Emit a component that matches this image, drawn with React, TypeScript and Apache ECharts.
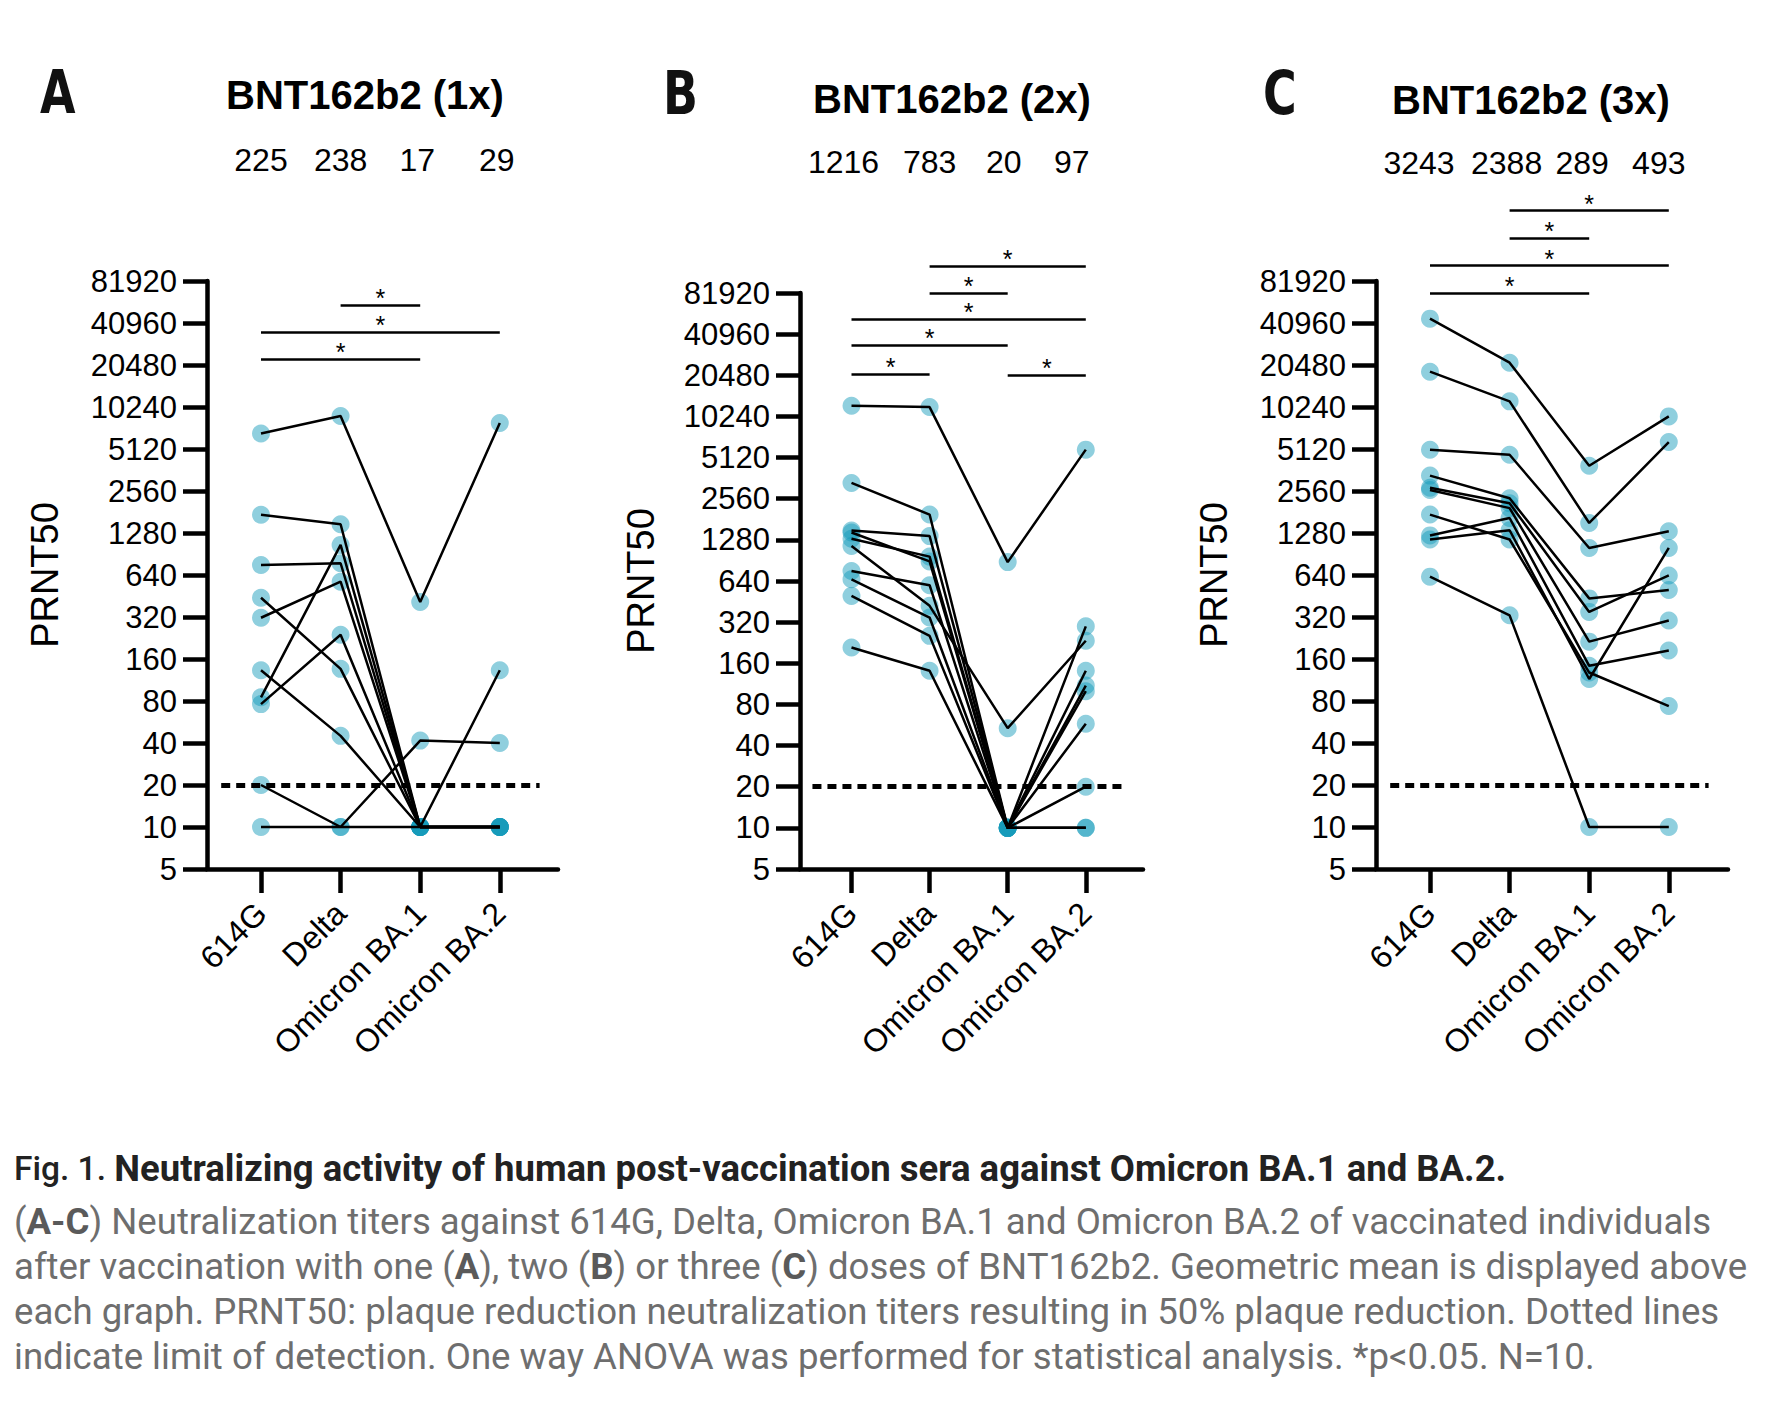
import React, { useEffect, useRef } from 'react';
import * as echarts from 'echarts';

// ---------- data ----------
const categories = ['614G', 'Delta', 'Omicron BA.1', 'Omicron BA.2'];
const yTickLabels = ['5', '10', '20', '40', '80', '160', '320', '640', '1280', '2560', '5120', '10240', '20480', '40960', '81920'];
const yMin = 5;
const yTop = 327680; // hidden headroom for significance bars
const lodValue = 20;

const panelLetters = ['A', 'B', 'C'];
const panelTitles = ['BNT162b2 (1x)', 'BNT162b2 (2x)', 'BNT162b2 (3x)'];
const geoMeansA = ['225', '238', '17', '29'];
const geoMeansB = ['1216', '783', '20', '97'];
const geoMeansC = ['3243', '2388', '289', '493'];

// each subject: [614G, Delta, Omicron BA.1, Omicron BA.2]
const subjectsA = [
  [6620, 8820, 410, 7870],
  [1729, 1480, 10, 133],
  [755, 777, 10, 10],
  [316, 573, 10, 10],
  [440, 136, 10, 10],
  [85, 1052, 10, 10],
  [76, 239, 10, 10],
  [133, 45, 10, 10],
  [20, 10, 41.6, 40],
  [10, 10, 10, 10],
];
const subjectsB = [
  [12260, 11990, 880, 5850],
  [3340, 1960, 10, 298],
  [1500, 1364, 10, 141],
  [1305, 965, 10, 110],
  [1153, 421, 53.6, 234],
  [758, 596, 10, 100],
  [659, 346, 10, 57.7],
  [498, 254, 10, 20],
  [209, 141, 10, 10],
  [1450, 890, 10, 10],
];
const subjectsC = [
  [44000, 21280, 3886, 8770],
  [18340, 11240, 1510, 5740],
  [5060, 4660, 1000, 1316],
  [3300, 2270, 435, 500],
  [2700, 2090, 348, 635],
  [2600, 1930, 213, 302],
  [1735, 1150, 128, 73.6],
  [1230, 1640, 143, 184],
  [1150, 1340, 115, 1000],
  [623, 329, 10, 10],
];

// significance brackets: [from category, to category, height]
const bracketsA = [[1, 2, 54700], [0, 3, 35200], [0, 2, 22500]];
const bracketsB = [[1, 3, 128700], [1, 2, 81920], [0, 3, 52700], [0, 2, 34200], [0, 1, 20900], [2, 3, 20500]];
const bracketsC = [[1, 3, 261800], [1, 2, 165300], [0, 3, 105400], [0, 2, 67300]];

const captionTitle = 'Neutralizing activity of human post-vaccination sera against Omicron BA.1 and BA.2.';
const captionLines = [
  '({b|A-C}) Neutralization titers against 614G, Delta, Omicron BA.1 and Omicron BA.2 of vaccinated individuals',
  'after vaccination with one ({b|A}), two ({b|B}) or three ({b|C}) doses of BNT162b2. Geometric mean is displayed above',
  'each graph. PRNT50: plaque reduction neutralization titers resulting in 50% plaque reduction. Dotted lines',
  'indicate limit of detection. One way ANOVA was performed for statistical analysis. *p<0.05. N=10.',
];

const panels = [
  { letter: panelLetters[0], title: panelTitles[0], geo: geoMeansA, subjects: subjectsA, brackets: bracketsA },
  { letter: panelLetters[1], title: panelTitles[1], geo: geoMeansB, subjects: subjectsB, brackets: bracketsB },
  { letter: panelLetters[2], title: panelTitles[2], geo: geoMeansC, subjects: subjectsC, brackets: bracketsC },
];

// ---------- layout (pixels) ----------
const layouts = [
  { axisX: 207, catX0: 261, sp: 79.6, top: 281, bottom: 869, right: 558, letterX: 40, letterY: 92, titleX: 365, titleY: 95, geoY: 160, geoDx: [0, 0, -3, -3], nameGap: 143 },
  { axisX: 800, catX0: 851.5, sp: 78.1, top: 293, bottom: 869, right: 1143, letterX: 663, letterY: 93, titleX: 952, titleY: 99, geoY: 162, geoDx: [-8, 0, -4, -14], nameGap: 140 },
  { axisX: 1376, catX0: 1430, sp: 79.6, top: 281, bottom: 869, right: 1728, letterX: 1263, letterY: 93, titleX: 1531, titleY: 100, geoY: 163, geoDx: [-11, -3, -7, -10], nameGap: 143 },
];

const FONT = '"Liberation Sans", Arial, sans-serif';
const DOT = 'rgba(20,155,185,0.6)';

function buildOption() {
  const grid: any[] = [];
  const xAxis: any[] = [];
  const yAxis: any[] = [];
  const series: any[] = [];
  const graphic: any[] = [];

  panels.forEach((p, k) => {
    const L = layouts[k];
    const d = (L.bottom - L.top) / 14;
    // frame grid (visible axes)
    grid.push({ left: L.axisX, top: L.top, width: L.right - L.axisX, height: L.bottom - L.top, containLabel: false });
    const gQ = grid.length - 1;
    xAxis.push({
      gridIndex: gQ, type: 'value', min: 0, max: 1,
      axisLine: { show: true, lineStyle: { color: '#000', width: 4.5 } },
      axisTick: { show: false }, axisLabel: { show: false }, splitLine: { show: false },
    });
    yAxis.push({
      gridIndex: gQ, type: 'value', min: 0, max: 14, interval: 1,
      name: 'PRNT50', nameLocation: 'middle', nameGap: L.nameGap, nameRotate: 90,
      nameTextStyle: { fontSize: 38, color: '#000', fontFamily: FONT },
      axisLine: { show: true, lineStyle: { color: '#000', width: 4.5 } },
      axisTick: { show: true, length: 24, lineStyle: { color: '#000', width: 4.5 } },
      axisLabel: { margin: 30, fontSize: 31, color: '#000', fontFamily: FONT, formatter: (v: number) => yTickLabels[v] ?? '' },
      splitLine: { show: false },
    });
    // plot grid (data)
    const h = d * Math.log2(yTop / yMin);
    grid.push({ left: L.catX0 - L.sp / 2, top: L.bottom - h, width: 4 * L.sp, height: h, containLabel: false });
    const gP = grid.length - 1;
    xAxis.push({
      gridIndex: gP, type: 'category', data: categories, boundaryGap: true,
      axisLine: { show: false },
      axisTick: { show: true, alignWithLabel: true, length: 24, lineStyle: { color: '#000', width: 4.5 } },
      axisLabel: { interval: 0, rotate: 45, margin: 39, fontSize: 32, color: '#000', fontFamily: FONT },
      splitLine: { show: false },
    });
    yAxis.push({ gridIndex: gP, type: 'log', logBase: 2, min: yMin, max: yTop, show: false, splitLine: { show: false } });

    const dots: any[] = [];
    p.subjects.forEach((s) => s.forEach((v, i) => dots.push([i, v])));

    const markData: any[] = [
      { yAxis: lodValue, lineStyle: { color: '#000', width: 5, type: [9, 6] }, label: { show: false } },
    ];
    p.brackets.forEach(([a, b, lvl]) => {
      markData.push([
        {
          coord: [categories[a], lvl],
          lineStyle: { color: '#000', width: 2.5, type: 'solid' },
          label: { show: true, formatter: '*', position: 'insideMiddleTop', distance: 0, offset: [0, 1], fontSize: 25, lineHeight: 16, color: '#000', fontFamily: FONT },
        },
        { coord: [categories[b], lvl] },
      ]);
    });

    series.push({
      type: 'scatter', xAxisIndex: gP, yAxisIndex: gP, data: dots, symbolSize: 18,
      itemStyle: { color: DOT }, z: 2, silent: true,
      markLine: { silent: true, symbol: ['none', 'none'], animation: false, data: markData },
    });
    p.subjects.forEach((s) => {
      series.push({
        type: 'line', xAxisIndex: gP, yAxisIndex: gP, data: s, symbol: 'none', showSymbol: false,
        lineStyle: { color: '#000', width: 2.5 }, z: 3, silent: true,
      });
    });

    graphic.push({
      type: 'text', x: L.letterX, y: L.letterY, scaleX: 0.85,
      style: { text: p.letter, fontSize: 60, fontWeight: 'bold', fontFamily: '"Liberation Sans Narrow", "DejaVu Sans Condensed", sans-serif', fill: '#111', align: 'left', verticalAlign: 'middle' },
    });
    graphic.push({
      type: 'text', x: L.titleX, y: L.titleY,
      style: { text: p.title, fontSize: 40, fontWeight: 'bold', fontFamily: FONT, fill: '#000', align: 'center', verticalAlign: 'middle' },
    });
    p.geo.forEach((g, i) => {
      graphic.push({
        type: 'text', x: L.catX0 + i * L.sp + L.geoDx[i], y: L.geoY,
        style: { text: g, fontSize: 32, fontFamily: FONT, fill: '#000', align: 'center', verticalAlign: 'middle' },
      });
    });
  });

  // caption
  const CAP = 'Roboto, "Noto Sans", sans-serif';
  graphic.push({
    type: 'text', x: 14, y: 1168,
    style: {
      text: '{f|Fig. 1. }{t|' + captionTitle + '}', verticalAlign: 'middle', align: 'left',
      rich: {
        f: { fontSize: 33.5, fontWeight: 500, fill: '#222', fontFamily: CAP },
        t: { fontSize: 36.5, fontWeight: 'bold', fill: '#222', fontFamily: CAP },
      },
    },
  });
  captionLines.forEach((line, i) => {
    graphic.push({
      type: 'text', x: 14, y: 1221 + i * 45.2,
      style: {
        text: line, fontSize: 36.6, fontFamily: CAP, fill: '#6e6e6e', verticalAlign: 'middle', align: 'left',
        rich: { b: { fontSize: 36.6, fontWeight: 'bold', fill: '#5a5a5a', fontFamily: CAP } },
      },
    });
  });

  return {
    animation: false,
    backgroundColor: '#fff',
    textStyle: { fontFamily: FONT },
    grid, xAxis, yAxis, series, graphic,
  };
}

export default function App() {
  const ref = useRef<HTMLDivElement>(null);
  useEffect(() => {
    if (!ref.current) return;
    const chart = echarts.init(ref.current, undefined, { renderer: 'svg' });
    chart.setOption(buildOption() as any);
    return () => chart.dispose();
  }, []);
  return <div ref={ref} style={{ position: 'absolute', left: 0, top: 0, width: 1786, height: 1418, background: '#fff' }} />;
}
